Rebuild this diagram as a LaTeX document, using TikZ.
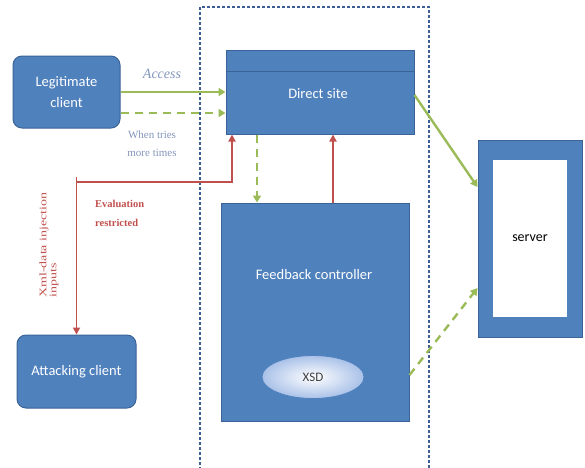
\documentclass[tikz,border=0pt]{standalone}
\usepackage{fontspec}
\usepackage{graphicx}
\setmainfont{Liberation Serif}
\newfontfamily\boxfont{Carlito}
\usetikzlibrary{arrows.meta,shapes.geometric,calc}
\definecolor{boxblue}{HTML}{4F81BD}
\definecolor{boxedge}{HTML}{3A6497}
\definecolor{agreen}{HTML}{9BBB59}
\definecolor{ared}{HTML}{C0504D}
\definecolor{lblue}{HTML}{8396BC}
\definecolor{cdash}{HTML}{3D5E94}
\definecolor{xsdout}{HTML}{A9C1E8}
\tikzset{
  bluebox/.style={draw=boxedge,line width=1pt,fill=boxblue,text=white,font=\boxfont\fontsize{14.5}{21}\selectfont,align=center,inner sep=0pt},
  roundbox/.style={bluebox,rounded corners=9pt},
  boxlabel/.style={text=white,font=\boxfont\fontsize{14.5}{17}\selectfont,inner sep=0pt},
  garrow/.style={draw=agreen,line width=2.4pt,-{Triangle[length=7pt,width=8pt]}},
  gdash/.style={garrow,dash pattern=on 8pt off 6pt},
  rarrow/.style={draw=ared,line width=1.8pt,-{Triangle[length=7pt,width=7pt]}},
  rboth/.style={draw=ared,line width=1.8pt,{Triangle[length=7pt,width=7pt]}-{Triangle[length=7pt,width=7pt]}},
  bluelabel/.style={text=lblue,align=center,inner sep=0pt},
  redlabel/.style={text=ared,inner sep=0pt}
}
\begin{document}
\begin{tikzpicture}[x=1pt,y=-1pt]
\useasboundingbox (0,0) rectangle (585,467);
% container
\coordinate (c1) at (200,470);
\coordinate (c2) at (200,7);
\coordinate (c3) at (429,7);
\coordinate (c4) at (429,470);
\draw[cdash,line width=1.1pt,dash pattern=on 3pt off 2pt] (c1) -- (c2) -- (c3) -- (c4);
% nodes
\node[roundbox,minimum width=107pt,minimum height=72pt] (legit) at (66.5,92) {Legitimate\\client};
\node[roundbox,minimum width=119pt,minimum height=73pt] (attack) at (76.5,371.5) {Attacking client};
\node[bluebox,minimum width=188pt,minimum height=84pt] (direct) at (320,92) {};
\node[boxlabel] (directlbl) at (318,94) {Direct site};
\draw[boxedge,line width=1pt] (direct.north west) ++(0,22) coordinate (dl) -- (dl -| direct.east);
\node[bluebox,minimum width=188pt,minimum height=218pt] (feedback) at (315,312) {};
\node[boxlabel] (fblbl) at (314,275) {Feedback controller};
\node[ellipse,draw=boxblue,line width=0.8pt,inner color=white,outer color=xsdout,minimum width=102pt,minimum height=43pt,font=\boxfont\fontsize{13}{15}\selectfont,text=black!75] (xsd) at (313,377) {XSD};
\node[bluebox,minimum width=104pt,minimum height=197pt] (serverout) at (530,238.5) {};
\node[draw=none,fill=white,minimum width=74pt,minimum height=157pt,inner sep=0pt,font=\boxfont\fontsize{14}{16}\selectfont] (serverin) at (530,238.5) {server};
% connectors
\coordinate (d1) at ([yshift=-21pt]legit.east);
\draw[garrow] (legit.east) -- (legit.east -| direct.west);
\draw[gdash] (d1) -- (d1 -| direct.west);
\coordinate (s1) at ([yshift=51.5pt]serverout.west);
\coordinate (s2) at ([yshift=-49.5pt]serverout.west);
\coordinate (e1) at ([yshift=-3pt]direct.east);
\coordinate (f1) at ([yshift=-63pt]feedback.east);
\draw[garrow] (e1) -- (s1);
\draw[gdash] (f1) -- (s2);
\coordinate (v1) at ([xshift=-63pt]direct.south);
\draw[gdash] (v1) -- (v1 |- feedback.north);
\coordinate (v2) at ([xshift=18pt]feedback.north);
\draw[rarrow] (v2) -- (v2 |- direct.south);
\coordinate (r1) at ([xshift=-88pt]direct.south);
\coordinate (bend) at (76.5,182);
\coordinate (tick) at (76.5,177);
\draw[rboth] (attack.north) -- (bend) -| (r1);
\draw[ared,line width=1.8pt] (bend) -- (tick);
% labels
\node[bluelabel,font=\itshape\fontsize{14}{16}\selectfont] (acc) at (162,74) {Access};
\node[bluelabel,font=\fontsize{11}{18}\selectfont] (when) at (152,144) {When tries\\more times};
\node[redlabel,font=\bfseries\fontsize{10.5}{19}\selectfont,align=left,anchor=west] (eval) at (95,213) {Evaluation\\restricted};
\node[redlabel,font=\fontsize{10}{12}\selectfont,rotate=90] (xml) at (49,245) {\scalebox{1.4}[1]{\begin{tabular}{@{}l@{}}Xml-data injection\\[-2pt]inputs\end{tabular}}};
\end{tikzpicture}
\end{document}
